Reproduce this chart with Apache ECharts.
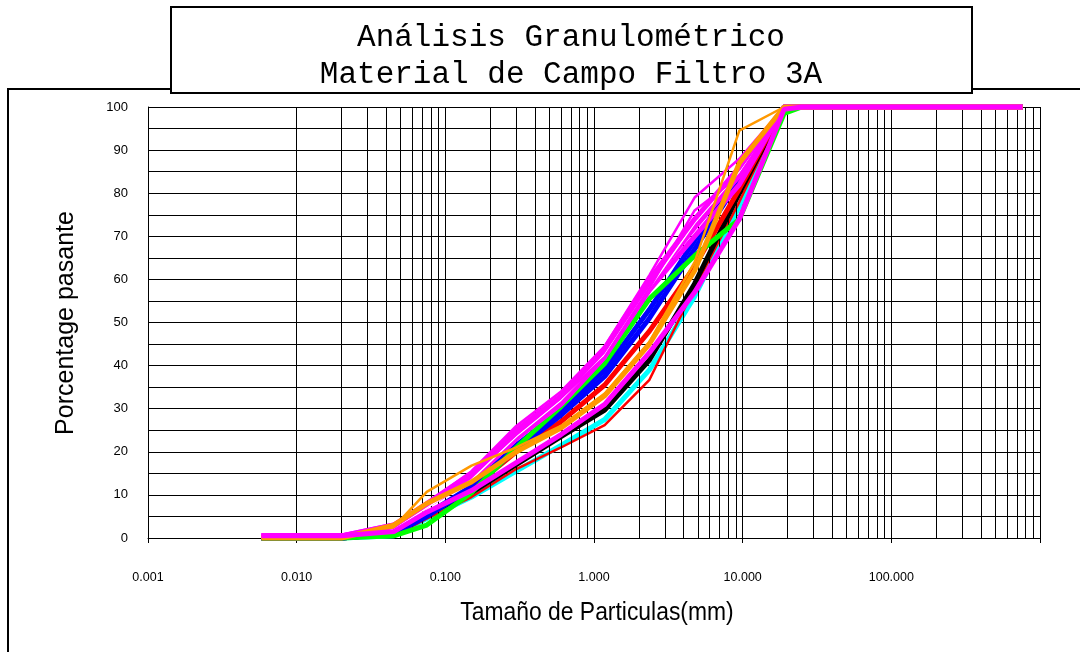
<!DOCTYPE html>
<html>
<head>
<meta charset="utf-8">
<script src="https://cdn.jsdelivr.net/npm/echarts@6/dist/echarts.min.js"></script>
<style>
html,body{margin:0;padding:0;background:#fff;}
#chart{width:1080px;height:652px;}
</style>
</head>
<body>
<div id="chart"></div>
<script>
// Sieve sizes (mm)
const sizes = [0.0058, 0.02, 0.045, 0.075, 0.15, 0.3, 0.6, 1.18, 2.36, 4.75, 9.5, 19, 25, 762];
// Percent passing per sample
const cyan      = [0, 0, 0.5, 4.5, 9.5, 15.5, 21.5, 27.5, 39, 56, 77, 100, 100, 100];
const redThin   = [0, 0, 0.5, 4.5, 9.5, 16, 21, 26.2, 36.7, 58, 78, 100, 100, 100];
const black     = [0, 0, 1, 5.5, 10.5, 17, 23.5, 29.7, 41.3, 59, 80, 100, 100, 100];
const red       = [0, 0, 1, 5.5, 11.5, 20, 27, 35.5, 48, 63, 81, 100, 100, 100];
const blue      = [0, 0, 1, 5, 11.5, 20.5, 28.5, 37.5, 51, 67, 83, 100, 100, 100];
const blue2     = [0, 0, 1, 5.5, 12, 21.5, 29.5, 39, 53, 69, 84, 100, 100, 100];
const green     = [0, 0, 0.5, 3, 10.5, 21, 30.5, 40.5, 55.5, 65.5, 74, 98.5, 100, 100];
const magThick3 = [0.5, 0.5, 2.5, 7.5, 13.5, 23, 31, 42, 57.5, 70, 82, 100, 100, 100];
const magThick2 = [0.5, 0.5, 3, 7.5, 14, 24, 32, 43, 59, 72, 84, 100, 100, 100];
const white     = [0, 0, 2, 7, 13.5, 23.5, 32, 42.5, 58, 73, 85, 100, 100, 100];
const magThick1 = [0.5, 0.5, 3, 8, 15, 25, 33, 44, 60, 74, 86, 100, 100, 100];
const magThinB  = [0.5, 0.5, 2.5, 7.5, 14.5, 24, 32.5, 42, 58, 76, 84, 100, 100, 100];
const magThinA  = [0.5, 0.5, 2.5, 8, 15.5, 26, 34, 44.5, 61, 79, 88, 100, 100, 100];
const orange    = [0, 0, 3, 8, 13, 20, 25.5, 33, 45, 62, 87, 100, 100, 100];
const orangeThin= [0, 0, 2.5, 10.7, 16.8, 21, 26, 33.5, 45.5, 64, 94.5, 100, 100, 100];
const magLow    = [0.5, 0.5, 1.5, 6, 11, 17.5, 24, 31, 43, 57, 74, 99.5, 100, 100];

const xTickLabels = ['0.001', '0.010', '0.100', '1.000', '10.000', '100.000', ''];
const yTickStep = 10;
const decades = [0.001, 0.01, 0.1, 1, 10, 100];

// minor log grid lines at 2..9 x decade
const minorGrid = [];
decades.forEach(d => { for (let k = 2; k <= 9; k++) minorGrid.push(+(d * k).toPrecision(6)); });

const seriesDefs = [
  ['cyan', cyan, '#00FFFF', 5],
  ['redThin', redThin, '#FF0000', 2.5],
  ['black', black, '#000000', 5],
  ['red', red, '#FF0000', 5],
  ['blue', blue, '#0000FF', 5],
  ['blue2', blue2, '#0000FF', 5],
  ['green', green, '#00FF00', 5],
  ['magThick3', magThick3, '#FF00FF', 5],
  ['magThick2', magThick2, '#FF00FF', 5],
  ['white', white, '#FFFFFF', 1.5],
  ['magThick1', magThick1, '#FF00FF', 5],
  ['magThinB', magThinB, '#FF00FF', 2.5],
  ['magThinA', magThinA, '#FF00FF', 2.5],
  ['orange', orange, '#FF9900', 5],
  ['orangeThin', orangeThin, '#FF9900', 2.5],
  ['magLow', magLow, '#FF00FF', 5]
];

const series = [{
  type: 'line', data: [], silent: true, z: 1,
  markLine: {
    silent: true, symbol: ['none', 'none'], animation: false,
    label: { show: false },
    lineStyle: { color: '#000', width: 1, type: 'solid' },
    emphasis: { disabled: true },
    data: minorGrid.map(v => ({ xAxis: v }))
  }
}];
seriesDefs.forEach((s, i) => {
  series.push({
    name: s[0], type: 'line', showSymbol: false, symbol: 'none', clip: false,
    data: sizes.map((x, j) => [x, s[1][j]]),
    lineStyle: { color: s[2], width: s[3] },
    itemStyle: { color: s[2] },
    z: 3 + i, animation: false, silent: true
  });
});

const chart = echarts.init(document.getElementById('chart'), null, { renderer: 'canvas' });
chart.setOption({
  animation: false,
  backgroundColor: '#fff',
  grid: { left: 148, top: 107, width: 892, height: 431, containLabel: false },
  xAxis: {
    type: 'log', logBase: 10, min: 0.001, max: 1000, interval: 1,
    axisLine: { show: true, lineStyle: { color: '#000', width: 1 } },
    axisTick: { show: true, length: 5, inside: false, lineStyle: { color: '#000' } },
    axisLabel: {
      margin: 33, color: '#000', fontFamily: 'Liberation Sans, Arial', fontSize: 12.5,
      formatter: (v, i) => xTickLabels[i] || ''
    },
    splitLine: { show: true, lineStyle: { color: '#000', width: 1 } }
  },
  yAxis: {
    type: 'value', min: 0, max: 100, interval: yTickStep,
    axisLine: { show: true, lineStyle: { color: '#000', width: 1 } },
    axisTick: { show: false },
    axisLabel: { margin: 20, color: '#000', fontFamily: 'Liberation Sans, Arial', fontSize: 13 },
    splitLine: { show: true, lineStyle: { color: '#000', width: 1 } },
    minorTick: { show: false, splitNumber: 2 },
    minorSplitLine: { show: true, lineStyle: { color: '#000', width: 1 } }
  },
  graphic: [
    { type: 'rect', z: 0, silent: true, shape: { x: 8, y: 89, width: 1100, height: 600 },
      style: { fill: 'none', stroke: '#000', lineWidth: 2 } },
    { type: 'rect', z: 100, silent: true, shape: { x: 171, y: 7, width: 801, height: 86 },
      style: { fill: '#fff', stroke: '#000', lineWidth: 2 } },
    { type: 'text', z: 101, silent: true,
      style: { text: 'Análisis Granulométrico', x: 571, y: 38, align: 'center', verticalAlign: 'middle',
        fontFamily: 'Liberation Mono, Courier New, monospace', fontSize: 31, fill: '#000' } },
    { type: 'text', z: 101, silent: true,
      style: { text: 'Material de Campo Filtro 3A', x: 571, y: 75, align: 'center', verticalAlign: 'middle',
        fontFamily: 'Liberation Mono, Courier New, monospace', fontSize: 31, fill: '#000' } },
    { type: 'text', z: 101, silent: true, x: 66, y: 323, rotation: Math.PI / 2,
      style: { text: 'Porcentage pasante', x: 0, y: 0, align: 'center', verticalAlign: 'middle',
        fontFamily: 'Liberation Sans, Arial', fontSize: 25, fill: '#000' } },
    { type: 'text', z: 101, silent: true, x: 597, y: 613, scaleX: 0.88,
      style: { text: 'Tamaño de Particulas(mm)', x: 0, y: 0, align: 'center', verticalAlign: 'middle',
        fontFamily: 'Liberation Sans, Arial', fontSize: 26, fill: '#000' } }
  ],
  series: series
});
</script>
</body>
</html>
